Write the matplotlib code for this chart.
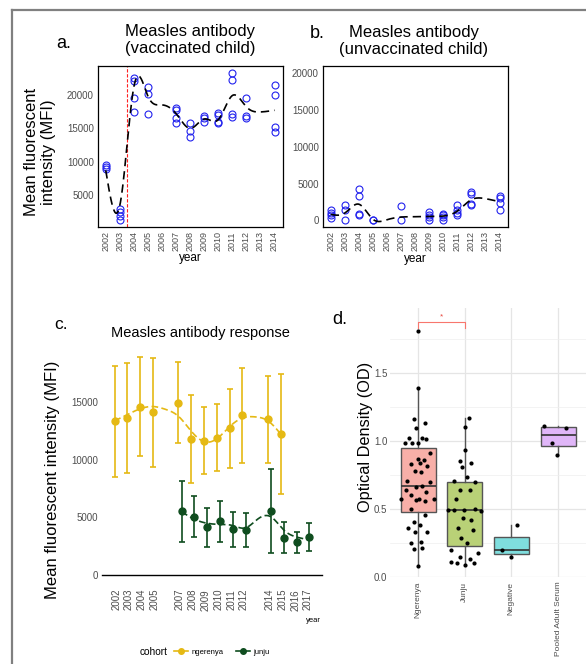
import numpy as np
import matplotlib.pyplot as plt
from matplotlib.lines import Line2D

plt.rcParams['font.family'] = ['Liberation Sans', 'DejaVu Sans']

# ---- panel a: vaccinated child (points per year) ----
a_years = [2002, 2003, 2004, 2005, 2007, 2008, 2009, 2010, 2011, 2012, 2014]
a_vals = [[9600, 9300, 9000],
          [3000, 2500, 1900, 1300],
          [22450, 22100, 19600, 17400],
          [21100, 20200, 17100],
          [18050, 17700, 16500, 15800],
          [15800, 14550, 13650],
          [16850, 16500, 16000],
          [17350, 16950, 15950, 15750],
          [23200, 22200, 17100, 16700],
          [19600, 16800, 16550],
          [21400, 20050, 15200, 14450]]
a_trend_years = list(range(2002, 2015))
a_trend = [8750, 3500, 21200, 19800, 18500, 17200, 15000, 16400, 16300, 19900, 18200, 17450, 17700]
vacc_year = 2003.5

# ---- panel b: unvaccinated child ----
b_years = [2002, 2003, 2004, 2005, 2007, 2009, 2010, 2011, 2012, 2014]
b_vals = [[1350, 1000, 680, 360],
          [2050, 1450, 0],
          [4230, 3360, 820, 680],
          [80, 0],
          [1900, 0],
          [1140, 680, 450, 0],
          [900, 680, 450, 90],
          [2050, 1450, 1000, 770],
          [3860, 3550, 2270, 2050],
          [3320, 3050, 2360, 1360]]
b_trend_years = list(range(2002, 2015))
b_trend = [820, 1000, 2200, 150, 90, 450, 500, 540, 590, 1270, 2820, 2950, 2550]

# ---- panel c: antibody response by cohort ----
c_tick_years = [2002, 2003, 2004, 2005, 2007, 2008, 2009, 2010, 2011, 2012, 2014, 2015, 2016, 2017]
ng_years = [2002, 2003, 2004, 2005, 2007, 2008, 2009, 2010, 2011, 2012, 2014, 2015]
ng_mean = [13390, 13620, 14640, 14150, 14990, 11830, 11680, 11890, 12750, 13880, 13540, 12260]
ng_hi = [18200, 18460, 18980, 18900, 18550, 15650, 14640, 14840, 16170, 18000, 17330, 17450]
ng_lo = [8550, 8840, 10350, 9420, 11450, 8030, 8750, 9040, 9300, 9770, 9770, 7040]
ng_trend_years = list(range(2002, 2016))
ng_trend = [13400, 13950, 14450, 14650, 14400, 13800, 12500, 11600, 11850, 12900, 13650, 13750, 13400, 12250]
ju_years = [2007, 2008, 2009, 2010, 2011, 2012, 2014, 2015, 2016, 2017]
ju_mean = [5570, 5070, 4150, 4700, 4000, 3940, 5540, 3250, 2840, 3330]
ju_hi = [8200, 6870, 5800, 6430, 5510, 5420, 9190, 4580, 3770, 4550]
ju_lo = [2900, 3330, 2460, 2900, 2460, 2460, 1940, 1940, 1940, 2110]
ju_trend_years = list(range(2007, 2018))
ju_trend = [5500, 4850, 4500, 4400, 4300, 4100, 4900, 5050, 3900, 3300, 3050]

# ---- panel d: optical density ----
d_groups = ['Ngerenya', 'Junju', 'Negative', 'Pooled Adult Serum']
d_ngerenya = [1.81, 1.388, 1.165, 1.131, 1.099, 1.020, 1.020, 1.012, 0.983, 0.988, 0.983,
              0.909, 0.869, 0.859, 0.832, 0.840, 0.815, 0.778, 0.770, 0.704, 0.696, 0.640,
              0.662, 0.667, 0.600, 0.622, 0.573, 0.568, 0.573, 0.556, 0.573, 0.499, 0.457,
              0.400, 0.383, 0.358, 0.333, 0.326, 0.247, 0.259, 0.205, 0.210, 0.081]
d_ngerenya_jit = [0.0, 0.01, -0.09, 0.14, -0.04, -0.19, 0.09, 0.17, -0.27, -0.13, 0.01,
                  0.26, -0.01, 0.12, -0.15, 0.05, 0.19, -0.07, 0.06, -0.24, 0.26, -0.25,
                  -0.05, 0.09, -0.16, 0.18, -0.36, -0.04, 0.03, 0.16, 0.34, -0.16, 0.16,
                  -0.08, 0.04, -0.21, 0.19, -0.06, -0.15, 0.06, -0.09, 0.09, 0.0]
d_junju = [1.168, 1.106, 0.933, 0.852, 0.835, 0.810, 0.736, 0.704, 0.699, 0.573, 0.642,
           0.642, 0.489, 0.494, 0.489, 0.499, 0.481, 0.432, 0.415, 0.358, 0.341, 0.284,
           0.252, 0.198, 0.178, 0.111, 0.099, 0.143, 0.128, 0.086, 0.099]
d_junju_jit = [0.09, 0.01, 0.0, -0.11, 0.14, -0.06, 0.05, -0.22, 0.23, -0.18, -0.09,
               0.11, -0.36, -0.22, -0.02, 0.23, 0.35, -0.04, 0.14, -0.15, 0.18, -0.08,
               0.05, -0.29, 0.28, -0.29, -0.16, -0.09, 0.11, 0.0, 0.19]
d_negative = [0.198, 0.143, 0.383]
d_negative_jit = [-0.19, 0.0, 0.13]
d_pooled = [1.111, 0.983, 0.896, 1.099]
d_pooled_jit = [-0.31, -0.13, -0.02, 0.17]
d_colors = ['#F8AFA8', '#B9D177', '#7FDEDE', '#E0B6F8']
sig_y = 1.88

W, H = 586, 664


def box(l, t, r, b):
    return [l / W, 1 - b / H, (r - l) / W, (b - t) / H]


def smooth(xs, ys, n=300):
    # natural cubic spline through the read trend values
    x = np.asarray(xs, float)
    y = np.asarray(ys, float)
    k = len(x)
    h = np.diff(x)
    A = np.zeros((k, k))
    r = np.zeros(k)
    A[0, 0] = A[-1, -1] = 1
    for i in range(1, k - 1):
        A[i, i - 1] = h[i - 1]
        A[i, i] = 2 * (h[i - 1] + h[i])
        A[i, i + 1] = h[i]
        r[i] = 6 * ((y[i + 1] - y[i]) / h[i] - (y[i] - y[i - 1]) / h[i - 1])
    M = np.linalg.solve(A, r)
    xx = np.linspace(x[0], x[-1], n)
    j = np.clip(np.searchsorted(x, xx) - 1, 0, k - 2)
    t0, t1 = x[j], x[j + 1]
    hh = t1 - t0
    a = (t1 - xx) / hh
    b = (xx - t0) / hh
    yy = a * y[j] + b * y[j + 1] + ((a ** 3 - a) * M[j] + (b ** 3 - b) * M[j + 1]) * hh ** 2 / 6
    return xx, yy


fig = plt.figure(figsize=(5.86, 6.64), dpi=100)
gray_txt = '#4D4D4D'

# figure frame (top + left)
fig.add_artist(Line2D([12 / W, 12 / W], [0, 1 - 10 / H], color='#808080', lw=1.6, transform=fig.transFigure))
fig.add_artist(Line2D([12 / W, 1], [1 - 10 / H, 1 - 10 / H], color='#808080', lw=1.6, transform=fig.transFigure))


def scatter_panel(ax, years, vals, ty, tv):
    for yr, vs in zip(years, vals):
        ax.plot([yr] * len(vs), vs, 'o', mfc='none', mec='#2222EE', ms=5, mew=0.8, zorder=3)
    xx, yy = smooth(ty, tv)
    ax.plot(xx, yy, color='black', lw=1.2, ls=(0, (5, 3)), zorder=4)
    ax.set_xlim(2001.45, 2014.6)
    ax.set_xticks(list(range(2002, 2015)))
    ax.set_xticklabels([str(y) for y in range(2002, 2015)], rotation=90, fontsize=6.5, color=gray_txt)
    ax.tick_params(length=0, pad=3, labelsize=7, labelcolor=gray_txt)
    for s in ax.spines.values():
        s.set_linewidth(0.9)


# panel a
axa = fig.add_axes(box(98, 66, 283, 227))
scatter_panel(axa, a_years, a_vals, a_trend_years, a_trend)
axa.axvline(vacc_year, color='#FF2020', lw=0.8, ls=(0, (3, 1.5)), zorder=2)
axa.set_ylim(300, 24300)
axa.set_yticks([5000, 10000, 15000, 20000])
axa.tick_params(axis='x', labelsize=6.5)
fig.text(190 / W, 1 - 40 / H, 'Measles antibody\n(vaccinated child)', ha='center', va='center', fontsize=12)
fig.text(64 / W, 1 - 44 / H, 'a.', ha='center', va='center', fontsize=13)
fig.text(40 / W, 1 - 152 / H, 'Mean fluorescent\nintensity (MFI)', rotation=90, ha='center', va='center', fontsize=12)
fig.text(190 / W, 1 - 258 / H, 'year', ha='center', va='center', fontsize=8.5)

# panel b
axb = fig.add_axes(box(323, 66, 508, 227))
scatter_panel(axb, b_years, b_vals, b_trend_years, b_trend)
axb.set_ylim(-900, 21000)
axb.set_yticks([0, 5000, 10000, 15000, 20000])
axb.tick_params(axis='x', labelsize=6.5)
fig.text(414 / W, 1 - 41 / H, 'Measles antibody\n(unvaccinated child)', ha='center', va='center', fontsize=12)
fig.text(317 / W, 1 - 33 / H, 'b.', ha='center', va='center', fontsize=13)
fig.text(415 / W, 1 - 259 / H, 'year', ha='center', va='center', fontsize=8.5)

# panel c
ng_col = '#E5B914'
ju_col = '#0F4D1F'
axc = fig.add_axes(box(102, 350, 322, 575))
ngx = np.array(ng_years) - 0.12
jux = np.array(ju_years) + 0.12
xx, yy = smooth(np.array(ng_trend_years) - 0.12, ng_trend)
axc.plot(xx, yy, color=ng_col, lw=1.2, ls=(0, (4, 2)))
xx, yy = smooth(np.array(ju_trend_years) + 0.12, ju_trend)
axc.plot(xx, yy, color=ju_col, lw=1.2, ls=(0, (4, 2)))
axc.errorbar(ngx, ng_mean, yerr=[np.subtract(ng_mean, ng_lo), np.subtract(ng_hi, ng_mean)],
             fmt='o', color=ng_col, ms=5, capsize=2.2, elinewidth=1.2, capthick=1.2)
axc.errorbar(jux, ju_mean, yerr=[np.subtract(ju_mean, ju_lo), np.subtract(ju_hi, ju_mean)],
             fmt='o', color=ju_col, ms=5, capsize=2.2, elinewidth=1.2, capthick=1.2)
axc.set_xlim(2000.9, 2018.1)
axc.set_ylim(0, 19565)
axc.set_xticks(c_tick_years)
axc.set_xticklabels([str(y) for y in c_tick_years], rotation=90)
axc.set_yticks([0, 5000, 10000, 15000])
axc.tick_params(length=0, labelsize=7, labelcolor=gray_txt)
axc.tick_params(axis='x', pad=10)
axc.tick_params(axis='y', pad=3)
for side in ['top', 'right', 'left']:
    axc.spines[side].set_visible(False)
axc.spines['bottom'].set_linewidth(1.0)
fig.text(200 / W, 1 - 333 / H, 'Measles antibody response', ha='center', va='center', fontsize=10.5)
fig.text(61 / W, 1 - 324 / H, 'c.', ha='center', va='center', fontsize=12.5)
fig.text(53 / W, 1 - 480 / H, 'Mean fluorescent intensity (MFI)', rotation=90, ha='center', va='center', fontsize=12)
fig.text(321 / W, 1 - 621 / H, 'year', ha='right', va='center', fontsize=5.5)
fig.text(168 / W, 1 - 652 / H, 'cohort', ha='right', va='center', fontsize=7.3)
handles = [Line2D([], [], color=ng_col, marker='o', ms=4, lw=1.2),
           Line2D([], [], color=ju_col, marker='o', ms=4, lw=1.2)]
fig.legend(handles, ['ngerenya', 'junju'], loc='center left', bbox_to_anchor=(174 / W, 1 - 652 / H),
           ncol=2, fontsize=5.5, frameon=False, handlelength=1.8, handletextpad=0.5,
           columnspacing=1.6, borderpad=0, borderaxespad=0)

# panel d
axd = fig.add_axes(box(390, 308, 586, 577.4))
d_data = [d_ngerenya, d_junju, d_negative, d_pooled]
d_jit = [d_ngerenya_jit, d_junju_jit, d_negative_jit, d_pooled_jit]
bp = axd.boxplot(d_data, positions=range(4), widths=0.75, patch_artist=True, showfliers=False,
                 showcaps=False, whis=1.5,
                 boxprops=dict(edgecolor='#555555', linewidth=1.0),
                 whiskerprops=dict(color='#555555', linewidth=1.0),
                 medianprops=dict(color='#333333', linewidth=1.2))
for patch, col in zip(bp['boxes'], d_colors):
    patch.set_facecolor(col)
for i, (vals, jit) in enumerate(zip(d_data, d_jit)):
    axd.scatter(np.array(jit) + i, vals, s=9, color='black', zorder=4, linewidths=0)
axd.plot([0, 0, 1, 1], [sig_y - 0.05, sig_y, sig_y, sig_y - 0.05], color='#F8766D', lw=0.8)
axd.text(0.5, sig_y + 0.01, '*', color='#E8453C', fontsize=6, ha='center', va='bottom')
axd.set_xlim(-0.6, 3.6)
axd.set_ylim(-0.005, 1.98)
axd.set_yticks([0, 0.5, 1.0, 1.5])
axd.set_yticklabels(['0.0', '0.5', '1.0', '1.5'])
axd.set_yticks([0.25, 0.75, 1.25, 1.75], minor=True)
axd.set_xticks(range(4))
axd.set_xticklabels(d_groups, rotation=90)
axd.tick_params(which='both', length=0)
axd.tick_params(axis='y', labelsize=7, labelcolor=gray_txt, pad=2)
axd.tick_params(axis='x', labelsize=6, labelcolor=gray_txt, pad=3)
axd.grid(True, which='major', color='#E5E5E5', lw=0.9)
axd.grid(True, which='minor', axis='y', color='#EFEFEF', lw=0.5)
axd.set_axisbelow(True)
for s in axd.spines.values():
    s.set_visible(False)
fig.text(365 / W, 1 - 437 / H, 'Optical Density (OD)', rotation=90, ha='center', va='center', fontsize=11.8)
fig.text(340 / W, 1 - 320 / H, 'd.', ha='center', va='center', fontsize=13)

fig.savefig('out.png', dpi=100)
